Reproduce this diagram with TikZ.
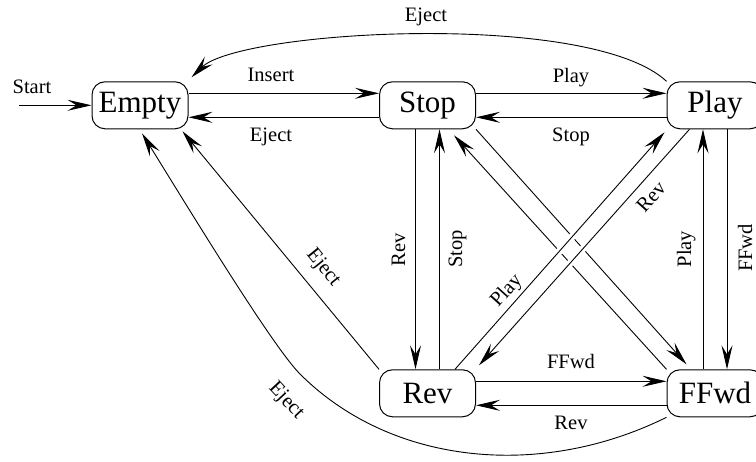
\documentclass[tikz,border=0pt]{standalone}
\usepackage{fontspec}
\setmainfont{Liberation Serif}
\usetikzlibrary{arrows.meta,backgrounds}
\tikzset{
  state/.style={draw, line width=1pt, rounded corners=13pt, minimum width=96pt,
    minimum height=47pt, inner sep=0pt, font=\fontsize{31}{31}\selectfont},
  edge/.style={line width=0.9pt, -{Stealth[length=24pt,width=11pt,inset=9pt]}},
  lbl/.style={inner sep=0pt, font=\fontsize{20.5}{22}\selectfont},
  gap/.style={preaction={draw=white, line width=7pt, -}}
}
\begin{document}
\begin{tikzpicture}[x=1pt,y=-1pt]
\clip (0,0) rectangle (756,462);
\node[state] (empty) at (140,105.3) {Empty};
\node[state] (stop) at (427.5,105.3) {Stop};
\node[state] (play) at (715,105.3) {Play};
\node[state] (rev) at (427.5,393.3) {Rev};
\node[state] (ffwd) at (715,393.3) {FFwd};
\coordinate (start) at (19,105.3);
\coordinate (knee) at (300,374);

\begin{scope}[on background layer]
\draw[edge] (start) -- (empty.west);
\draw[edge] ([shift={(0,-12)}]empty.east) -- ([shift={(0,-12)}]stop.west);
\draw[edge] ([shift={(0,12)}]stop.west) -- ([shift={(0,12)}]empty.east);
\draw[edge] ([shift={(0,-12)}]stop.east) -- ([shift={(0,-12)}]play.west);
\draw[edge] ([shift={(0,12)}]play.west) -- ([shift={(0,12)}]stop.east);
\draw[edge] ([shift={(0,-12)}]rev.east) -- ([shift={(0,-12)}]ffwd.west);
\draw[edge] ([shift={(0,12)}]ffwd.west) -- ([shift={(0,12)}]rev.east);
\draw[edge] ([shift={(-12,0)}]stop.south) -- ([shift={(-12,0)}]rev.north);
\draw[edge] ([shift={(12,0)}]rev.north) -- ([shift={(12,0)}]stop.south);
\draw[edge] ([shift={(-12,0)}]ffwd.north) -- ([shift={(-12,0)}]play.south);
\draw[edge] ([shift={(12,0)}]play.south) -- ([shift={(12,0)}]ffwd.north);
\draw[edge] (stop.south east) -- ([shift={(20,-5)}]ffwd.north west);
\draw[edge] (ffwd.north west) -- ([shift={(-22,6)}]stop.south east);
\draw[edge,gap] ([shift={(-21,0)}]rev.north east) -- ([shift={(-2,3)}]play.south west);
\draw[edge,gap] ([shift={(23,0)}]play.south west) -- ([shift={(3,-4)}]rev.north east);
\draw[edge] (rev.north west) -- ([shift={(-6,2)}]empty.south east);
\draw[edge] (ffwd.south west) .. controls (542,479) and (392,466) .. (knee)
  .. controls (272,346) and (184,201) .. ([shift={(2,4)}]empty.south);
\draw[edge] (play.north west) .. controls (590,10) and (240,30) .. ([shift={(3,-4)}]empty.north east);
\end{scope}

\node[lbl,anchor=base] (lstart) at (32,94) {Start};
\node[lbl,anchor=base] (linsert) at (271,82) {Insert};
\node[lbl,anchor=base] (leject1) at (271,142) {Eject};
\node[lbl,anchor=base] (leject0) at (426,22) {Eject};
\node[lbl,anchor=base] (lplay1) at (571,83) {Play};
\node[lbl,anchor=base] (lstop1) at (571,142) {Stop};
\node[lbl,anchor=base] (lffwd1) at (571,369) {FFwd};
\node[lbl,anchor=base] (lrev1) at (571,430) {Rev};
\node[lbl,anchor=base,rotate=90] (lrev2) at (405,250) {Rev};
\node[lbl,anchor=base,rotate=90] (lstop2) at (462,249) {Stop};
\node[lbl,anchor=base,rotate=90] (lplay2) at (691,249) {Play};
\node[lbl,anchor=base,rotate=90] (lffwd2) at (752,248) {FFwd};
\node[lbl,rotate=48] (lrev3) at (651,197) {Rev};
\node[lbl,rotate=48] (lplay3) at (507,291) {Play};
\node[lbl,rotate=-51] (leject2) at (323,268) {Eject};
\node[lbl,rotate=-47] (leject3) at (286,401) {Eject};
\end{tikzpicture}
\end{document}
